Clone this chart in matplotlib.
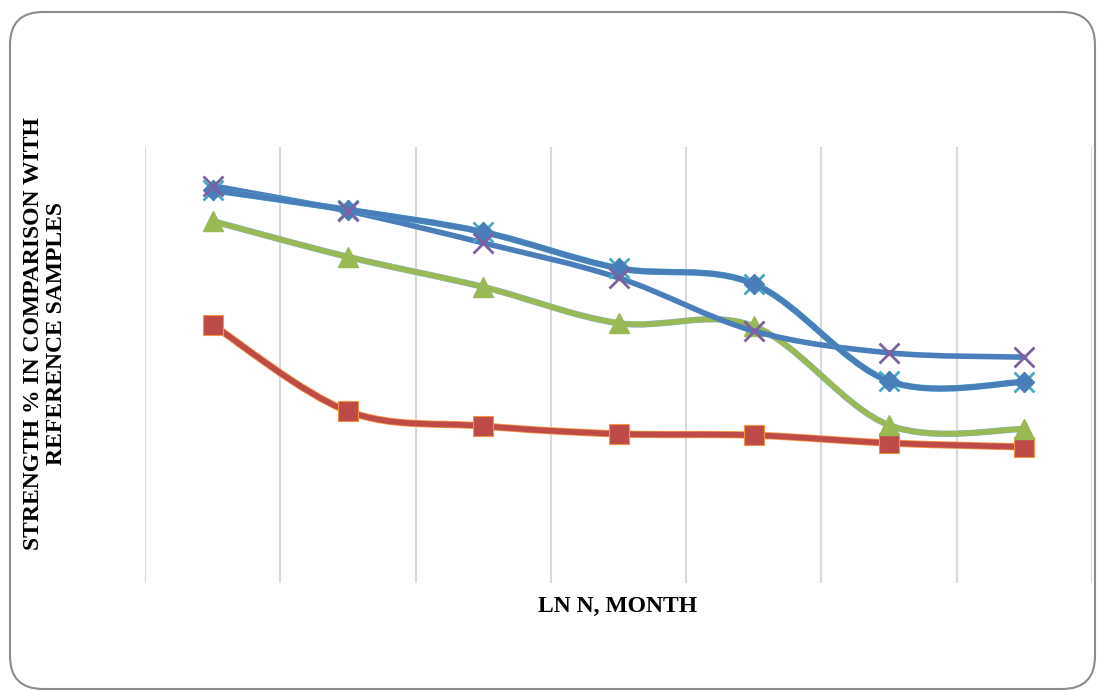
import numpy as np
import matplotlib.pyplot as plt
from matplotlib.path import Path
from matplotlib.patches import PathPatch, FancyBboxPatch

# values (y axis has no labels, scale 0-100 of plot height)
months = [1, 2, 3, 4, 5, 6, 7]
s_diamond = [90.1, 85.6, 80.5, 72.2, 68.6, 46.3, 46.1]
s_cross = [91.1, 85.3, 78.0, 70.0, 57.8, 52.8, 51.8]
s_triangle = [83.0, 74.8, 67.9, 59.6, 58.9, 36.2, 35.3]
s_square = [59.2, 39.4, 36.0, 34.2, 33.9, 32.1, 31.2]

blue = '#4a7ebb'
red = '#be4b48'
green = '#98b954'
purple = '#7d60a0'
teal = '#46aac5'
orange = '#f69240'
lightblue = '#8eb4e3'


def smooth_path(x, y):
    # excel style smoothed line: cubic bezier with catmull-rom handles
    p = np.column_stack([x, y]).astype(float)
    pts = np.vstack([p[0], p, p[-1]])
    verts = [p[0]]
    codes = [Path.MOVETO]
    for i in range(1, len(pts) - 2):
        c1 = pts[i] + (pts[i+1] - pts[i-1]) / 6
        c2 = pts[i+1] - (pts[i+2] - pts[i]) / 6
        verts += [c1, c2, pts[i+1]]
        codes += [Path.CURVE4] * 3
    return Path(verts, codes)


def line(ax, y, color, lw, z):
    ax.add_patch(PathPatch(smooth_path(months, y), fill=False, edgecolor=color,
                           lw=lw, capstyle='round', joinstyle='round', zorder=z))


plt.rcParams['font.family'] = ['Liberation Serif', 'DejaVu Serif']

fig = plt.figure(figsize=(10.97, 6.91), dpi=100)
fig.patches.append(FancyBboxPatch((10/1097, 2/691), 1085/1097, 677/691,
                                  boxstyle='round,pad=0,rounding_size=0.03',
                                  transform=fig.transFigure, fc='none',
                                  ec='#8c8c8c', lw=1.5, mutation_aspect=1097/691,
                                  zorder=-1))

ax = fig.add_axes([145/1097, 108/691, 947/1097, 436/691])
ax.set_facecolor('none')
ax.set_xlim(0.5, 7.5)
ax.set_ylim(0, 100)
for xv in np.arange(0.5, 7.6, 1):
    ax.axvline(xv, color='#d9d9d9', lw=1.5, zorder=0)
for s in ax.spines.values():
    s.set_visible(False)
ax.set_xticks([])
ax.set_yticks([])

# red squares over hidden orange series
line(ax, s_square, orange, 5.2, 2)
line(ax, s_square, red, 4.0, 3)
ax.plot(months, s_square, ls='none', marker='s', ms=14, mfc=red, mec=orange, mew=0.8, zorder=4)

# green triangles over hidden light blue series
line(ax, s_triangle, lightblue, 4.6, 5)
line(ax, s_triangle, green, 4.0, 6)
ax.plot(months, s_triangle, ls='none', marker='^', ms=15, mfc=green, mec=green, zorder=7)

# crosses
line(ax, s_cross, blue, 4.0, 8)
ax.plot(months, s_cross, ls='none', marker='x', ms=14, mec=purple, mew=2.0, zorder=12)

# diamonds with teal stars
line(ax, s_diamond, teal, 4.6, 9)
line(ax, s_diamond, blue, 4.0, 10)
ax.plot(months, s_diamond, ls='none', marker='x', ms=14, mec=teal, mew=2.0, zorder=11)
ax.plot(months, s_diamond, ls='none', marker='|', ms=14, mec=teal, mew=2.0, zorder=11)
ax.plot(months, s_diamond, ls='none', marker='D', ms=10, mfc=blue, mec=blue, zorder=11)

fig.text(618/1097, 1 - 606/691, 'LN N, MONTH', ha='center', va='center',
         fontsize=17, fontweight='bold')
fig.text(45/1097, 1 - 334/691, 'STRENGTH % IN COMPARISON WITH\nREFERENCE SAMPLES',
         ha='center', va='center', rotation=90, fontsize=17, fontweight='bold',
         linespacing=1.12)

fig.savefig('out.png', dpi=100)
